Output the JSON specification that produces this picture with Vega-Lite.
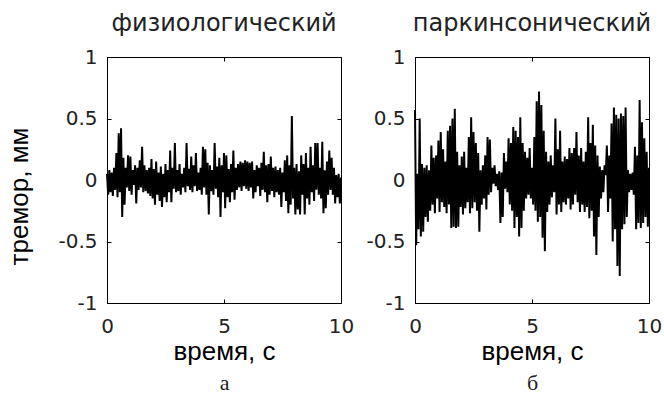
{
"$schema": "https://vega.github.io/schema/vega-lite/v6.json",
"background": "white",
"padding": {"left": 6, "top": 11, "right": 0, "bottom": 0},
"config": {
  "view": {"stroke": "#000", "strokeWidth": 1},
  "axis": {"domain": false, "grid": false, "tickColor": "#000", "tickSize": -4, "labelColor": "#222", "labelFont": "DejaVu Sans", "labelFontSize": 20, "labelFlush": false, "labelOverlap": false, "titleFont": "Liberation Sans", "titleFontSize": 26, "titleFontWeight": "normal", "titleColor": "#000"},
  "title": {"font": "DejaVu Sans", "fontSize": 24, "fontWeight": "normal", "color": "#222"}
},
"datasets": {
"a": [{"t":0,"v":0.05},{"t":0.05,"v":-0.12},{"t":0.1,"v":0.08},{"t":0.15,"v":-0.10},{"t":0.2,"v":0.06},{"t":0.25,"v":-0.13},{"t":0.3,"v":0.10},{"t":0.35,"v":-0.08},{"t":0.4,"v":0.22},{"t":0.45,"v":-0.14},{"t":0.5,"v":0.38},{"t":0.55,"v":-0.10},{"t":0.6,"v":0.42},{"t":0.65,"v":-0.30},{"t":0.7,"v":0.18},{"t":0.75,"v":-0.20},{"t":0.8,"v":0.10},{"t":0.85,"v":-0.06},{"t":0.9,"v":0.20},{"t":0.95,"v":-0.09},{"t":1.0,"v":0.19},{"t":1.05,"v":-0.12},{"t":1.1,"v":0.08},{"t":1.15,"v":-0.04},{"t":1.2,"v":0.12},{"t":1.25,"v":-0.19},{"t":1.3,"v":0.10},{"t":1.35,"v":-0.08},{"t":1.4,"v":0.16},{"t":1.45,"v":-0.06},{"t":1.5,"v":0.27},{"t":1.55,"v":-0.10},{"t":1.6,"v":0.12},{"t":1.65,"v":-0.09},{"t":1.7,"v":0.08},{"t":1.75,"v":-0.11},{"t":1.8,"v":0.10},{"t":1.85,"v":-0.13},{"t":1.9,"v":0.17},{"t":1.95,"v":-0.15},{"t":2.0,"v":0.09},{"t":2.05,"v":-0.20},{"t":2.1,"v":0.15},{"t":2.15,"v":-0.12},{"t":2.2,"v":0.06},{"t":2.25,"v":-0.17},{"t":2.3,"v":0.11},{"t":2.35,"v":-0.22},{"t":2.4,"v":0.05},{"t":2.45,"v":-0.14},{"t":2.5,"v":0.13},{"t":2.55,"v":-0.18},{"t":2.6,"v":0.08},{"t":2.65,"v":-0.10},{"t":2.7,"v":0.24},{"t":2.75,"v":-0.18},{"t":2.8,"v":0.10},{"t":2.85,"v":-0.07},{"t":2.9,"v":0.30},{"t":2.95,"v":-0.10},{"t":3.0,"v":0.08},{"t":3.05,"v":-0.09},{"t":3.1,"v":0.13},{"t":3.15,"v":-0.12},{"t":3.2,"v":0.05},{"t":3.25,"v":-0.06},{"t":3.3,"v":0.10},{"t":3.35,"v":-0.10},{"t":3.4,"v":0.30},{"t":3.45,"v":-0.05},{"t":3.5,"v":0.09},{"t":3.55,"v":-0.08},{"t":3.6,"v":0.19},{"t":3.65,"v":-0.10},{"t":3.7,"v":0.12},{"t":3.75,"v":-0.05},{"t":3.8,"v":0.22},{"t":3.85,"v":-0.09},{"t":3.9,"v":0.06},{"t":3.95,"v":-0.08},{"t":4.0,"v":0.10},{"t":4.05,"v":-0.12},{"t":4.1,"v":0.27},{"t":4.15,"v":-0.06},{"t":4.2,"v":0.25},{"t":4.25,"v":-0.12},{"t":4.3,"v":0.14},{"t":4.35,"v":-0.28},{"t":4.4,"v":0.12},{"t":4.45,"v":-0.09},{"t":4.5,"v":0.08},{"t":4.55,"v":-0.12},{"t":4.6,"v":0.30},{"t":4.65,"v":-0.07},{"t":4.7,"v":0.11},{"t":4.75,"v":-0.14},{"t":4.8,"v":0.18},{"t":4.85,"v":-0.30},{"t":4.9,"v":0.12},{"t":4.95,"v":-0.10},{"t":5.0,"v":0.22},{"t":5.05,"v":-0.23},{"t":5.1,"v":0.20},{"t":5.15,"v":-0.14},{"t":5.2,"v":0.09},{"t":5.25,"v":-0.18},{"t":5.3,"v":0.13},{"t":5.35,"v":-0.10},{"t":5.4,"v":0.24},{"t":5.45,"v":-0.16},{"t":5.5,"v":0.10},{"t":5.55,"v":-0.08},{"t":5.6,"v":0.13},{"t":5.65,"v":-0.06},{"t":5.7,"v":0.15},{"t":5.75,"v":-0.09},{"t":5.8,"v":0.14},{"t":5.85,"v":-0.05},{"t":5.9,"v":0.16},{"t":5.95,"v":-0.07},{"t":6.0,"v":0.15},{"t":6.05,"v":-0.09},{"t":6.1,"v":0.14},{"t":6.15,"v":-0.06},{"t":6.2,"v":0.15},{"t":6.25,"v":-0.15},{"t":6.3,"v":0.08},{"t":6.35,"v":-0.10},{"t":6.4,"v":0.12},{"t":6.45,"v":-0.05},{"t":6.5,"v":0.10},{"t":6.55,"v":-0.13},{"t":6.6,"v":0.14},{"t":6.65,"v":-0.08},{"t":6.7,"v":0.23},{"t":6.75,"v":-0.10},{"t":6.8,"v":0.12},{"t":6.85,"v":-0.18},{"t":6.9,"v":0.13},{"t":6.95,"v":-0.12},{"t":7.0,"v":0.19},{"t":7.05,"v":-0.09},{"t":7.1,"v":0.10},{"t":7.15,"v":-0.14},{"t":7.2,"v":0.11},{"t":7.25,"v":-0.10},{"t":7.3,"v":0.08},{"t":7.35,"v":-0.12},{"t":7.4,"v":0.10},{"t":7.45,"v":-0.22},{"t":7.5,"v":0.06},{"t":7.55,"v":-0.10},{"t":7.6,"v":0.16},{"t":7.65,"v":-0.17},{"t":7.7,"v":0.20},{"t":7.75,"v":-0.27},{"t":7.8,"v":0.12},{"t":7.85,"v":-0.20},{"t":7.9,"v":0.52},{"t":7.95,"v":-0.15},{"t":8.0,"v":0.10},{"t":8.05,"v":-0.28},{"t":8.1,"v":0.13},{"t":8.15,"v":-0.24},{"t":8.2,"v":0.07},{"t":8.25,"v":-0.28},{"t":8.3,"v":0.20},{"t":8.35,"v":-0.12},{"t":8.4,"v":0.13},{"t":8.45,"v":-0.28},{"t":8.5,"v":0.22},{"t":8.55,"v":-0.15},{"t":8.6,"v":0.10},{"t":8.65,"v":-0.20},{"t":8.7,"v":0.27},{"t":8.75,"v":-0.10},{"t":8.8,"v":0.12},{"t":8.85,"v":-0.17},{"t":8.9,"v":0.30},{"t":8.95,"v":-0.08},{"t":9.0,"v":0.30},{"t":9.05,"v":-0.12},{"t":9.1,"v":0.10},{"t":9.15,"v":-0.15},{"t":9.2,"v":0.31},{"t":9.25,"v":-0.27},{"t":9.3,"v":0.08},{"t":9.35,"v":-0.23},{"t":9.4,"v":0.15},{"t":9.45,"v":-0.12},{"t":9.5,"v":0.24},{"t":9.55,"v":-0.08},{"t":9.6,"v":0.18},{"t":9.65,"v":-0.12},{"t":9.7,"v":0.10},{"t":9.75,"v":-0.19},{"t":9.8,"v":0.04},{"t":9.85,"v":-0.14},{"t":9.9,"v":0.05},{"t":9.95,"v":-0.19},{"t":10,"v":0.02}],
"b": [{"t":0,"v":0.57},{"t":0.05,"v":-0.53},{"t":0.1,"v":0.05},{"t":0.15,"v":-0.40},{"t":0.2,"v":0.50},{"t":0.25,"v":-0.46},{"t":0.3,"v":0.13},{"t":0.35,"v":-0.42},{"t":0.4,"v":0.10},{"t":0.45,"v":-0.30},{"t":0.5,"v":0.12},{"t":0.55,"v":-0.34},{"t":0.6,"v":0.08},{"t":0.65,"v":-0.25},{"t":0.7,"v":0.28},{"t":0.75,"v":-0.20},{"t":0.8,"v":0.18},{"t":0.85,"v":-0.27},{"t":0.9,"v":0.20},{"t":0.95,"v":-0.15},{"t":1.0,"v":0.32},{"t":1.05,"v":-0.26},{"t":1.1,"v":0.39},{"t":1.15,"v":-0.18},{"t":1.2,"v":0.25},{"t":1.25,"v":-0.22},{"t":1.3,"v":0.15},{"t":1.35,"v":-0.27},{"t":1.4,"v":0.40},{"t":1.45,"v":-0.20},{"t":1.5,"v":0.44},{"t":1.55,"v":-0.39},{"t":1.6,"v":0.50},{"t":1.65,"v":-0.38},{"t":1.7,"v":0.58},{"t":1.75,"v":-0.39},{"t":1.8,"v":0.23},{"t":1.85,"v":-0.38},{"t":1.9,"v":0.12},{"t":1.95,"v":-0.22},{"t":2.0,"v":0.19},{"t":2.05,"v":-0.28},{"t":2.1,"v":0.23},{"t":2.15,"v":-0.23},{"t":2.2,"v":0.10},{"t":2.25,"v":-0.18},{"t":2.3,"v":0.35},{"t":2.35,"v":-0.27},{"t":2.4,"v":0.51},{"t":2.45,"v":-0.23},{"t":2.5,"v":0.39},{"t":2.55,"v":-0.18},{"t":2.6,"v":0.30},{"t":2.65,"v":-0.25},{"t":2.7,"v":0.22},{"t":2.75,"v":-0.42},{"t":2.8,"v":0.08},{"t":2.85,"v":-0.20},{"t":2.9,"v":0.12},{"t":2.95,"v":-0.15},{"t":3.0,"v":0.20},{"t":3.05,"v":-0.24},{"t":3.1,"v":0.35},{"t":3.15,"v":-0.12},{"t":3.2,"v":0.33},{"t":3.25,"v":-0.10},{"t":3.3,"v":0.10},{"t":3.35,"v":-0.03},{"t":3.4,"v":0.12},{"t":3.45,"v":-0.05},{"t":3.5,"v":0.05},{"t":3.55,"v":-0.08},{"t":3.6,"v":0.07},{"t":3.65,"v":-0.35},{"t":3.7,"v":0.06},{"t":3.75,"v":-0.30},{"t":3.8,"v":0.22},{"t":3.85,"v":-0.07},{"t":3.9,"v":0.15},{"t":3.95,"v":-0.10},{"t":4.0,"v":0.34},{"t":4.05,"v":-0.20},{"t":4.1,"v":0.30},{"t":4.15,"v":-0.25},{"t":4.2,"v":0.43},{"t":4.25,"v":-0.39},{"t":4.3,"v":0.40},{"t":4.35,"v":-0.30},{"t":4.4,"v":0.35},{"t":4.45,"v":-0.46},{"t":4.5,"v":0.51},{"t":4.55,"v":-0.39},{"t":4.6,"v":0.30},{"t":4.65,"v":-0.25},{"t":4.7,"v":0.23},{"t":4.75,"v":-0.15},{"t":4.8,"v":0.18},{"t":4.85,"v":-0.12},{"t":4.9,"v":0.26},{"t":4.95,"v":-0.15},{"t":5.0,"v":0.10},{"t":5.05,"v":-0.20},{"t":5.1,"v":0.35},{"t":5.15,"v":-0.25},{"t":5.2,"v":0.64},{"t":5.25,"v":-0.34},{"t":5.3,"v":0.72},{"t":5.35,"v":-0.30},{"t":5.4,"v":0.61},{"t":5.45,"v":-0.47},{"t":5.5,"v":0.40},{"t":5.55,"v":-0.58},{"t":5.6,"v":0.23},{"t":5.65,"v":-0.26},{"t":5.7,"v":0.15},{"t":5.75,"v":-0.20},{"t":5.8,"v":0.20},{"t":5.85,"v":-0.14},{"t":5.9,"v":0.12},{"t":5.95,"v":-0.10},{"t":6.0,"v":0.50},{"t":6.05,"v":-0.28},{"t":6.1,"v":0.25},{"t":6.15,"v":-0.20},{"t":6.2,"v":0.40},{"t":6.25,"v":-0.26},{"t":6.3,"v":0.15},{"t":6.35,"v":-0.18},{"t":6.4,"v":0.19},{"t":6.45,"v":-0.20},{"t":6.5,"v":0.17},{"t":6.55,"v":-0.15},{"t":6.6,"v":0.26},{"t":6.65,"v":-0.24},{"t":6.7,"v":0.22},{"t":6.75,"v":-0.20},{"t":6.8,"v":0.26},{"t":6.85,"v":-0.12},{"t":6.9,"v":0.39},{"t":6.95,"v":-0.18},{"t":7.0,"v":0.20},{"t":7.05,"v":-0.26},{"t":7.1,"v":0.26},{"t":7.15,"v":-0.20},{"t":7.2,"v":0.15},{"t":7.25,"v":-0.26},{"t":7.3,"v":0.23},{"t":7.35,"v":-0.22},{"t":7.4,"v":0.51},{"t":7.45,"v":-0.31},{"t":7.5,"v":0.30},{"t":7.55,"v":-0.25},{"t":7.6,"v":0.45},{"t":7.65,"v":-0.46},{"t":7.7,"v":0.28},{"t":7.75,"v":-0.61},{"t":7.8,"v":0.20},{"t":7.85,"v":-0.30},{"t":7.9,"v":0.11},{"t":7.95,"v":-0.15},{"t":8.0,"v":0.08},{"t":8.05,"v":-0.10},{"t":8.1,"v":0.12},{"t":8.15,"v":0.04},{"t":8.2,"v":0.28},{"t":8.25,"v":-0.26},{"t":8.3,"v":0.20},{"t":8.35,"v":-0.15},{"t":8.4,"v":0.46},{"t":8.45,"v":-0.50},{"t":8.5,"v":0.59},{"t":8.55,"v":-0.40},{"t":8.6,"v":0.53},{"t":8.65,"v":-0.70},{"t":8.7,"v":0.50},{"t":8.75,"v":-0.78},{"t":8.8,"v":0.54},{"t":8.85,"v":-0.40},{"t":8.9,"v":0.52},{"t":8.95,"v":-0.36},{"t":9.0,"v":0.59},{"t":9.05,"v":-0.30},{"t":9.1,"v":0.08},{"t":9.15,"v":-0.10},{"t":9.2,"v":0.05},{"t":9.25,"v":-0.08},{"t":9.3,"v":0.06},{"t":9.35,"v":-0.12},{"t":9.4,"v":0.27},{"t":9.45,"v":-0.40},{"t":9.5,"v":0.20},{"t":9.55,"v":-0.35},{"t":9.6,"v":0.65},{"t":9.65,"v":-0.39},{"t":9.7,"v":0.47},{"t":9.75,"v":-0.35},{"t":9.8,"v":0.34},{"t":9.85,"v":-0.30},{"t":9.9,"v":0.23},{"t":9.95,"v":-0.38},{"t":10,"v":0.10}]
},
"spacing": 10,
"hconcat": [
  {
    "width": 234, "height": 246,
    "title": {"text": "физиологический", "offset": 11},
    "data": {"name": "a"},
    "layer": [
      {"mark": {"type": "line", "color": "#000", "strokeWidth": 2},
       "encoding": {
         "x": {"field": "t", "type": "quantitative", "scale": {"domain": [0, 10], "nice": false}, "axis": {"values": [0, 5, 10], "title": "время, с", "labelPadding": 17, "titlePadding": 2}},
         "y": {"field": "v", "type": "quantitative", "scale": {"domain": [-1, 1], "nice": false}, "axis": {"values": [-1, -0.5, 0, 0.5, 1], "labelExpr": "toString(datum.value)", "title": "тремор, мм", "labelPadding": 14, "titlePadding": 25, "titleY": 139}}
       }},
      {"mark": {"type": "line", "opacity": 0},
       "encoding": {
         "x": {"field": "t", "type": "quantitative", "axis": {"orient": "top", "values": [0, 5, 10], "labels": false, "title": null}},
         "y": {"field": "v", "type": "quantitative", "axis": {"orient": "right", "values": [-1, -0.5, 0, 0.5, 1], "labels": false, "title": null}}
       }},
      {"mark": {"type": "line", "opacity": 0},
       "encoding": {
         "x": {"field": "t", "type": "quantitative", "axis": {"orient": "bottom", "offset": 62, "ticks": false, "labels": false, "title": "а", "titleFont": "Liberation Serif", "titleFontSize": 22, "titleColor": "#222", "titlePadding": 7}},
         "y": {"field": "v", "type": "quantitative", "axis": null}
       }}
    ],
    "resolve": {"axis": {"x": "independent", "y": "independent"}}
  },
  {
    "width": 234, "height": 246,
    "title": {"text": "паркинсонический", "offset": 11},
    "data": {"name": "b"},
    "layer": [
      {"mark": {"type": "line", "color": "#000", "strokeWidth": 2},
       "encoding": {
         "x": {"field": "t", "type": "quantitative", "scale": {"domain": [0, 10], "nice": false}, "axis": {"values": [0, 5, 10], "title": "время, с", "labelPadding": 17, "titlePadding": 2}},
         "y": {"field": "v", "type": "quantitative", "scale": {"domain": [-1, 1], "nice": false}, "axis": {"values": [-1, -0.5, 0, 0.5, 1], "labelExpr": "toString(datum.value)", "title": null, "labelPadding": 14}}
       }},
      {"mark": {"type": "line", "opacity": 0},
       "encoding": {
         "x": {"field": "t", "type": "quantitative", "axis": {"orient": "top", "values": [0, 5, 10], "labels": false, "title": null}},
         "y": {"field": "v", "type": "quantitative", "axis": {"orient": "right", "values": [-1, -0.5, 0, 0.5, 1], "labels": false, "title": null}}
       }},
      {"mark": {"type": "line", "opacity": 0},
       "encoding": {
         "x": {"field": "t", "type": "quantitative", "axis": {"orient": "bottom", "offset": 62, "ticks": false, "labels": false, "title": "б", "titleFont": "Liberation Serif", "titleFontSize": 22, "titleColor": "#222", "titlePadding": 7}},
         "y": {"field": "v", "type": "quantitative", "axis": null}
       }}
    ],
    "resolve": {"axis": {"x": "independent", "y": "independent"}}
  }
]
}
